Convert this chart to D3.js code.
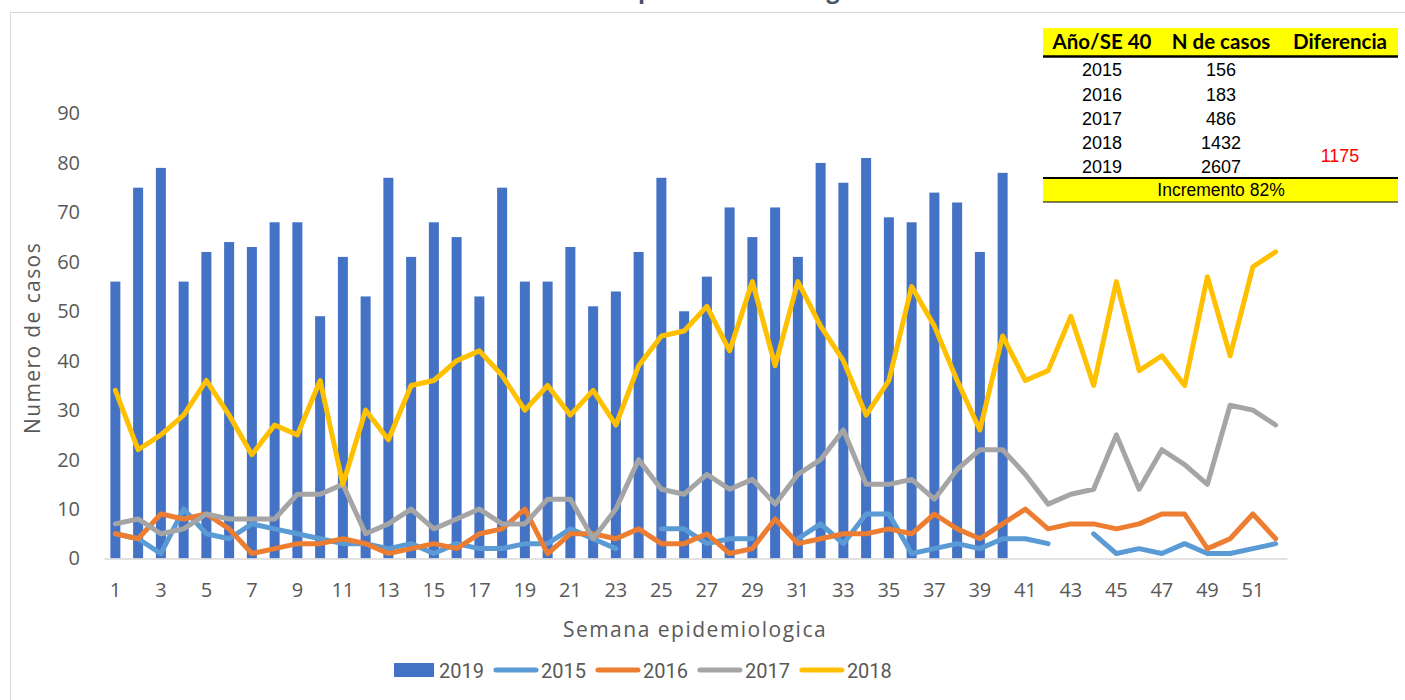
<!DOCTYPE html>
<html>
<head>
<meta charset="utf-8">
<script src="https://cdn.jsdelivr.net/npm/d3@7"></script>
<style>
  body { margin: 0; background: #fff; }
  svg { display: block; font-family: "Open Sans", sans-serif; }
</style>
</head>
<body>
<svg id="chart" width="1405" height="700"></svg>
<script>
// weekly dengue cases by epidemiological week
let weeks = d3.range(1, 53);
let cases2019 = [56, 75, 79, 56, 62, 64, 63, 68, 68, 49, 61, 53, 77, 61, 68, 65, 53, 75, 56, 56,
                 63, 51, 54, 62, 77, 50, 57, 71, 65, 71, 61, 80, 76, 81, 69, 68, 74, 72, 62, 78];
let cases2015 = [5, 4, 1, 10, 5, 4, 7, 6, 5, 4, 3, 3, 2, 3, 1, 3, 2, 2, 3, 3, 6, 4, 2, null, 6, 6,
                 3, 4, 4, null, 4, 7, 3, 9, 9, 1, 2, 3, 2, 4, 4, 3, null, 5, 1, 2, 1, 3, 1, 1, 2, 3];
let cases2016 = [5, 4, 9, 8, 9, 6, 1, 2, 3, 3, 4, 3, 1, 2, 3, 2, 5, 6, 10, 1, 5, 5, 4, 6, 3, 3,
                 5, 1, 2, 8, 3, 4, 5, 5, 6, 5, 9, 6, 4, 7, 10, 6, 7, 7, 6, 7, 9, 9, 2, 4, 9, 4];
let cases2017 = [7, 8, 5, 6, 9, 8, 8, 8, 13, 13, 15, 5, 7, 10, 6, 8, 10, 7, 7, 12, 12, 4, 10, 20, 14, 13,
                 17, 14, 16, 11, 17, 20, 26, 15, 15, 16, 12, 18, 22, 22, 17, 11, 13, 14, 25, 14, 22, 19, 15, 31, 30, 27];
let cases2018 = [34, 22, 25, 29, 36, 29, 21, 27, 25, 36, 15, 30, 24, 35, 36, 40, 42, 37, 30, 35, 29, 34, 27, 39, 45, 46,
                 51, 42, 56, 39, 56, 47, 40, 29, 36, 55, 47, 36, 26, 45, 36, 38, 49, 35, 56, 38, 41, 35, 57, 41, 59, 62];

let xTickWeeks = d3.range(1, 52, 2);
let yTicks = d3.range(0, 91, 10);

let tableHeader = ["Año/SE 40", "N de casos", "Diferencia"];
let tableYears = ["2015", "2016", "2017", "2018", "2019"];
let tableCases = ["156", "183", "486", "1432", "2607"];
let tableDiff = "1175";
let tableFoot = "Incremento 82%";

let titleText = "Curva epidémica de dengue";
let xTitle = "Semana epidemiologica";
let yTitle = "Numero de casos";

let lineSeries = [
    { name: "2015", values: cases2015, color: "#5b9bd5" },
    { name: "2016", values: cases2016, color: "#ed7d31" },
    { name: "2017", values: cases2017, color: "#a5a5a5" },
    { name: "2018", values: cases2018, color: "#ffc000" }
];
let barColor = "#4472c4";

function drawChart() {
    let svg = d3.select("#chart");

    // outer frame of the chart area
    svg.append("rect")
        .attr("x", 10.5).attr("y", 12.5)
        .attr("width", 1420).attr("height", 720)
        .attr("fill", "none")
        .attr("stroke", "#d9d9d9");

    // title, mostly above the top edge (as in the source picture)
    let title = svg.append("text")
        .attr("y", -2)
        .attr("fill", "#44546a")
        .style("font-weight", "bold")
        .style("font-size", "28px")
        .text(titleText);
    let node = title.node();
    let pIdx = titleText.indexOf("p");
    let gIdx = titleText.indexOf("g");
    let pStart = node.getStartPositionOfChar(pIdx).x;
    let gMid = (node.getStartPositionOfChar(gIdx).x + node.getEndPositionOfChar(gIdx).x) / 2;
    let size = 28 * 195 / (gMid - pStart);
    title.style("font-size", size + "px");
    pStart = node.getStartPositionOfChar(pIdx).x;
    title.attr("x", 638 - pStart);

    let x = d3.scaleBand()
        .domain(weeks)
        .range([104, 1287])
        .paddingInner(0.56)
        .paddingOuter(0.28);

    let y = d3.scaleLinear()
        .domain([0, 90])
        .range([558.5, 113.5]);

    // y axis labels
    let yAxis = svg.append("g")
        .attr("transform", "translate(104,0)")
        .call(d3.axisLeft(y).tickValues(yTicks).tickSize(0).tickPadding(24));
    yAxis.select(".domain").remove();
    yAxis.selectAll("text")
        .attr("fill", "#595959")
        .style("font-size", "20px")
        .style("font-family", "Open Sans");

    // bars 2019
    svg.append("g")
        .selectAll("rect")
        .data(cases2019)
        .enter()
        .append("rect")
        .attr("x", (d, i) => x(weeks[i]))
        .attr("y", d => y(d))
        .attr("width", x.bandwidth())
        .attr("height", d => y(0) - y(d))
        .attr("fill", barColor);

    // x axis
    let xAxis = svg.append("g")
        .attr("transform", "translate(0," + y(0) + ")")
        .call(d3.axisBottom(x).tickValues(xTickWeeks).tickSize(0).tickPadding(24));
    xAxis.select(".domain")
        .attr("stroke", "#d9d9d9")
        .attr("stroke-width", 1.5);
    xAxis.selectAll("text")
        .attr("fill", "#595959")
        .style("font-size", "20px")
        .style("font-family", "Open Sans");

    // lines 2015-2018
    let line = d3.line()
        .defined(d => d != null)
        .x((d, i) => x(weeks[i]) + x.bandwidth() / 2)
        .y(d => y(d));

    svg.append("g")
        .selectAll("path")
        .data(lineSeries)
        .enter()
        .append("path")
        .attr("d", d => line(d.values))
        .attr("fill", "none")
        .attr("stroke", d => d.color)
        .attr("stroke-width", 5)
        .attr("stroke-linejoin", "round")
        .attr("stroke-linecap", "round");

    // axis titles
    svg.append("text")
        .attr("x", 695).attr("y", 637)
        .attr("text-anchor", "middle")
        .attr("fill", "#595959")
        .style("font-size", "21px")
        .style("letter-spacing", "1.5px")
        .text(xTitle);

    svg.append("text")
        .attr("transform", "translate(40,338) rotate(-90)")
        .attr("text-anchor", "middle")
        .attr("fill", "#595959")
        .style("font-size", "21px")
        .style("letter-spacing", "1.4px")
        .text(yTitle);

    // legend
    let legend = svg.append("g").attr("transform", "translate(0,670)");
    let legendItems = [{ name: "2019", color: barColor, bar: true }].concat(lineSeries);
    let lx = 394;
    legendItems.forEach(item => {
        if (item.bar) {
            legend.append("rect")
                .attr("x", lx).attr("y", -7)
                .attr("width", 40).attr("height", 14)
                .attr("fill", item.color);
            lx += 45;
        } else {
            legend.append("line")
                .attr("x1", lx + 2).attr("x2", lx + 42)
                .attr("stroke", item.color)
                .attr("stroke-width", 5)
                .attr("stroke-linecap", "round");
            lx += 47;
        }
        let t = legend.append("text")
            .attr("x", lx).attr("y", 7.5)
            .attr("fill", "#595959")
            .style("font-size", "20px")
            .style("font-family", "Roboto")
            .text(item.name);
        lx += t.node().getComputedTextLength() + 10;
    });

    // summary table
    let tbl = svg.append("g");
    let colX = [1102, 1221, 1340];
    tbl.append("rect")
        .attr("x", 1043).attr("y", 28)
        .attr("width", 355).attr("height", 28)
        .attr("fill", "#ffff00");
    tbl.append("rect")
        .attr("x", 1043).attr("y", 56)
        .attr("width", 355).attr("height", 122)
        .attr("fill", "#fff");
    tbl.append("rect")
        .attr("x", 1043).attr("y", 178)
        .attr("width", 355).attr("height", 24)
        .attr("fill", "#ffff00");
    tbl.append("line")
        .attr("x1", 1043).attr("x2", 1398)
        .attr("y1", 56.5).attr("y2", 56.5)
        .attr("stroke", "#000").attr("stroke-width", 2.5);
    tbl.append("line")
        .attr("x1", 1043).attr("x2", 1398)
        .attr("y1", 178).attr("y2", 178)
        .attr("stroke", "#000").attr("stroke-width", 2);
    tbl.append("line")
        .attr("x1", 1043).attr("x2", 1398)
        .attr("y1", 202).attr("y2", 202)
        .attr("stroke", "#000").attr("stroke-width", 1);

    tbl.selectAll(".th")
        .data(tableHeader)
        .enter()
        .append("text")
        .attr("x", (d, i) => colX[i])
        .attr("y", 49)
        .attr("text-anchor", "middle")
        .style("font-family", "Lato")
        .style("font-weight", "bold")
        .style("font-size", "20.5px")
        .attr("fill", "#000")
        .text(d => d);

    let rowY = [70, 95, 119, 143, 167];
    tableYears.forEach((yr, i) => {
        tbl.append("text")
            .attr("x", colX[0]).attr("y", rowY[i] + 6)
            .attr("text-anchor", "middle")
            .style("font-family", "Liberation Sans")
            .style("font-size", "18px")
            .text(yr);
        tbl.append("text")
            .attr("x", colX[1]).attr("y", rowY[i] + 6)
            .attr("text-anchor", "middle")
            .style("font-family", "Liberation Sans")
            .style("font-size", "18px")
            .text(tableCases[i]);
    });
    tbl.append("text")
        .attr("x", colX[2]).attr("y", 162)
        .attr("text-anchor", "middle")
        .attr("fill", "#ff0000")
        .style("font-family", "Liberation Sans")
        .style("font-size", "18px")
        .text(tableDiff);
    tbl.append("text")
        .attr("x", 1221).attr("y", 196)
        .attr("text-anchor", "middle")
        .style("font-family", "Liberation Sans")
        .style("font-size", "17.5px")
        .text(tableFoot);
}

window.onload = function() {
    drawChart();
};
</script>
</body>
</html>
